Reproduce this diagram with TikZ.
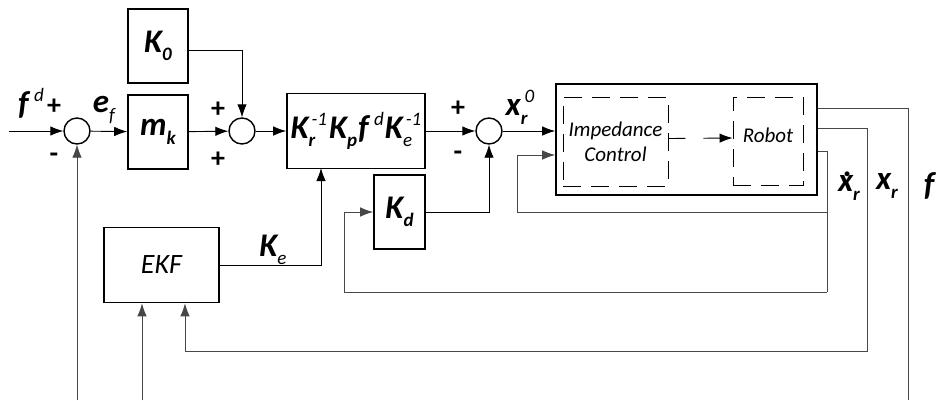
\documentclass[tikz,border=0pt]{standalone}
\usepackage{fontspec}
\setmainfont{Carlito}
\usetikzlibrary{arrows.meta,calc}
\newcommand\biF{\fontsize{33}{35}\selectfont\bfseries\itshape}
\newcommand\iF{\fontsize{21}{25}\selectfont\itshape}
\newcommand\subF{\fontsize{19}{19}\selectfont}
\newcommand\SX[3]{#1\sbox0{\subF #2}\sbox2{\subF #3}\ifdim\wd0>\wd2 \rlap{\raisebox{0.40em}{\usebox2}}\raisebox{-0.26em}{\usebox0}\else\rlap{\raisebox{-0.26em}{\usebox0}}\raisebox{0.40em}{\usebox2}\fi}
\newcommand\thin[1]{{\mdseries #1}}
\begin{document}
\begin{tikzpicture}[x=1pt,y=-1pt,
  blk/.style={draw,line width=1.6pt,inner sep=0pt,font=\biF},
  sumc/.style={draw,circle,line width=1.4pt,minimum size=26pt,inner sep=0pt},
  ln/.style={line width=0.9pt},
  arr/.style={ln,-{Latex[length=13pt,width=9.5pt]}},
  fb/.style={line width=0.9pt,draw=black!72},
  dbox/.style={draw,line width=0.9pt,dash pattern=on 18pt off 10pt},
  lab/.style={inner sep=0pt,font=\biF},
  sgn/.style={inner sep=0pt,font=\fontsize{28}{28}\selectfont\bfseries}]
\useasboundingbox (0,0) rectangle (940,400);
% blocks
\node[blk,minimum width=60pt,minimum height=74pt] (K0) at (158,46) {\SX{K}{0}{}};
\node[blk,minimum width=60pt,minimum height=74pt] (mk) at (158,132) {\SX{m}{k}{}};
\node[sumc] (s1) at (77,131) {};
\node[sumc] (s2) at (242,131) {};
\node[blk,minimum width=138pt,minimum height=75pt] (KK) at (356,131) {\SX{K}{r}{\thin{\hspace{0.15em}-1}}\hspace{2pt}\SX{K}{p}{}\hspace{1pt}\SX{f}{}{\thin{\hspace{0.3em}d}}\hspace{1pt}\SX{K}{\thin{e}}{\thin{\hspace{0.15em}-1}}};
\node[sumc] (s3) at (489,131) {};
\node[blk,minimum width=261pt,minimum height=111pt] (RB) at (686.5,139.5) {};
\node[dbox,minimum width=105pt,minimum height=89pt,align=center,font=\iF] (IC) at (615.5,141.5) {Impedance\\Control};
\node[dbox,minimum width=70pt,minimum height=88pt,font=\iF,text depth=12pt] (RO) at (768,141) {Robot};
\node[blk,minimum width=51pt,minimum height=74pt] (Kd) at (399.5,212) {\SX{K}{d}{}};
\node[blk,minimum width=115pt,minimum height=75pt,font=\fontsize{28}{30}\selectfont\itshape] (EKF) at (161.5,265) {EKF};
% coordinates
\coordinate (in) at (9,131);
\coordinate (xdA) at (827,151);
\coordinate (xdB) at (827,292);
\coordinate (xdC) at (344,292);
\coordinate (xdD) at (344,212);
\coordinate (brA) at (827,212);
\coordinate (brB) at (517,212);
\coordinate (brC) at (517,155);
\coordinate (keIn) at (321,168);
\coordinate (xrA) at (867,128);
\coordinate (xrB) at (867,351);
\coordinate (xrC) at (185,351);
\coordinate (fA) at (908,108);
\coordinate (fB) at (908,400);
\coordinate (b1) at (77,400);
\coordinate (b2) at (142,400);
% forward path
\draw[arr] (in) -- (s1);
\draw[arr] (s1) -- (mk);
\draw[arr] (mk) -- (s2);
\draw[arr] ([yshift=-4pt]K0.east) -| (s2);
\draw[arr] (s2) -- (KK);
\draw[arr] (KK) -- (s3);
\draw[arr] (s3) -- (RB.west |- s3);
\draw[arr] (Kd) -| (s3);
\draw[arr] (EKF.east) -| (keIn);
\draw[ln,dash pattern=on 17pt off 18pt,-{Latex[length=13pt,width=9.5pt]}] ([yshift=3pt]IC.east) -- ([yshift=3pt]RO.west);
% feedback
\draw[fb] (RB.east |- xdA) -- (xdA) -- (xdB);
\draw[fb,arr] (xdB) -- (xdC) -- (xdD) -- (Kd);
\draw[fb,arr] (brA) -- (brB) -- (brC) -- (RB.west |- brC);
\draw[fb,arr] (RB.east |- xrA) -- (xrA) -- (xrB) -- (xrC) -- (xrC |- EKF.south);
\draw[fb] (RB.east |- fA) -- (fA) -- (fB);
\draw[fb,arr] (b1) -- (s1);
\draw[fb,arr] (b2) -- (b2 |- EKF.south);
% labels
\node[lab] (lfd) at (31,106) {\SX{f}{}{\thin{\hspace{0.3em}d}}};
\node[sgn] (p1) at (54,107) {+};
\node[sgn] (m1) at (54,158) {-};
\node[lab] (lef) at (104,110) {\SX{e}{\thin{f}}{}};
\node[sgn] (p2) at (218,110) {+};
\node[sgn] (p3) at (218,160) {+};
\node[sgn] (p4) at (458,109) {+};
\node[sgn] (m3) at (458,156) {-};
\node[lab] (lxr0) at (520,107) {\SX{x}{r}{\thin{\hspace{0.2em}0}}};
\node[lab] (lke) at (273,250) {\SX{K}{\thin{e}}{}};
\node[lab] (lxd) at (849,186) {\rlap{\raisebox{0.45em}{\hspace{0.16em}.}}\SX{x}{r}{}};
\node[lab] (lxr) at (887,186) {\SX{x}{r}{}};
\node[lab] (lf) at (929,186) {f};
\end{tikzpicture}
\end{document}
